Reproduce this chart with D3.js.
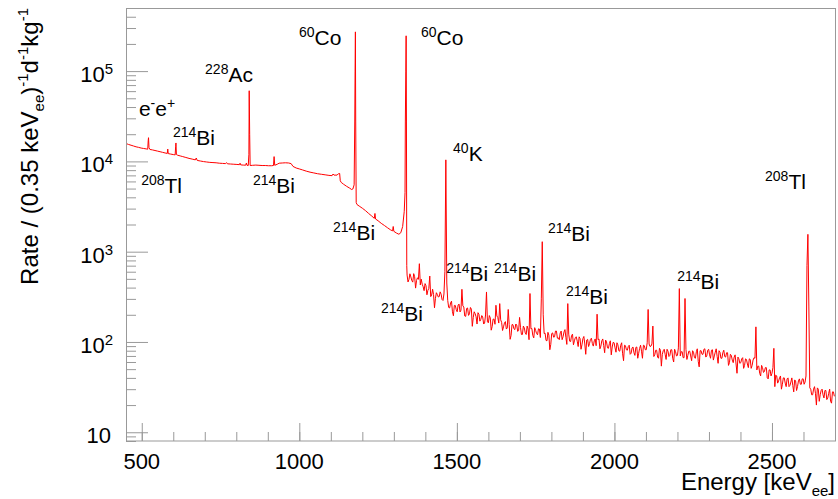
<!DOCTYPE html>
<html>
<head>
<meta charset="utf-8">
<script src="https://cdn.jsdelivr.net/npm/d3@7"></script>
<style>
  body { margin: 0; background: #fff; }
  text { font-family: "Liberation Sans", Arial, Helvetica, sans-serif; fill: #000; }
</style>
</head>
<body>
<div id="chart"></div>
<script>
// smooth part of the spectrum, below the second 60Co line [keV, rate]
const lowSpectrum = [
  [450, 15800], [458, 15400], [466, 15100], [474, 14800], [482, 14500], [490, 14300],
  [498, 14050], [506, 13900], [514, 13750], [519, 13650], [520.5, 17000], [521.5, 18300],
  [523, 14200], [526, 13550], [534, 13400], [542, 13200], [550, 13000], [558, 12800],
  [566, 12600], [574, 12400], [581, 12250], [582.5, 13700], [584, 12200], [592, 12050],
  [600, 11900], [606, 11800], [607.5, 14500], [608.5, 16000], [610, 11900], [614, 11700],
  [622, 11500], [630, 11300], [640, 11050], [650, 10800], [660, 10600], [670, 10400],
  [673, 10900], [676, 10250], [686, 10100], [696, 9950], [706, 9850], [716, 9750],
  [726, 9700], [736, 9650], [746, 9550], [756, 9500], [766, 9450], [769, 9700],
  [772, 9400], [782, 9350], [792, 9300], [802, 9250], [810, 9200], [812, 9550],
  [814, 9150], [822, 9100], [830, 9080], [832, 9600], [834, 9050], [838, 9000],
  [840, 12000], [841, 60600], [842.5, 20000], [844, 9000], [852, 9050], [862, 9100],
  [872, 9050], [882, 9000], [892, 9000], [902, 8950], [912, 8950], [918, 9000],
  [920, 11300], [922, 9050], [930, 9300], [936, 9550], [946, 9600], [956, 9650],
  [966, 9600], [974, 9450], [980, 8800], [990, 8450], [1000, 8250], [1010, 8050],
  [1022, 7800], [1034, 7600], [1046, 7450], [1058, 7300], [1070, 7200], [1082, 7100],
  [1094, 7000], [1104, 6950], [1107, 7250], [1110, 7050], [1120, 7050], [1124, 7300],
  [1128, 7350], [1130, 6100], [1133, 5850], [1140, 5600], [1150, 5300], [1160, 5050],
  [1166, 4880], [1170, 4950], [1174, 5500], [1176, 28000], [1177, 100000], [1178, 272000],
  [1179, 28000], [1180.5, 3500], [1183, 3330], [1190, 3200], [1200, 3030], [1210, 2850],
  [1220, 2650], [1230, 2480], [1238, 2340], [1240, 2650], [1242, 2300], [1250, 2200],
  [1260, 2060], [1270, 1950], [1280, 1840], [1290, 1740], [1296, 1700], [1298, 1900],
  [1300, 1680], [1308, 1610], [1316, 1560], [1322, 1620], [1328, 1900], [1333, 2800],
  [1335.5, 4500], [1336.5, 28000], [1338, 100000], [1339, 246000], [1340, 28000], [1341, 700]
];

// noisy part above 1340 keV, one bin every 3 keV (lines included)
const binStartKeV = 1342;
const binWidthKeV = 3;
const highRates = [
  551, 462, 494, 569, 525, 479, 460, 571, 528, 395, 480, 514, 494, 736, 428, 496, 436, 409, 370, 443,
  420, 333, 373, 392, 537, 318, 331, 384, 335, 239, 304, 351, 336, 315, 318, 359, 338, 295, 288, 340,
  600, 10400, 450, 288, 241, 238, 270, 283, 216, 195, 254, 254, 228, 216, 257, 263, 215, 225, 383, 251,
  244, 194, 192, 235, 238, 197, 205, 241, 231, 149, 187, 216, 206, 190, 158, 211, 203, 170, 178, 196,
  189, 158, 162, 199, 358, 167, 163, 196, 185, 135, 148, 179, 179, 157, 255, 194, 186, 162, 266, 176,
  165, 134, 147, 162, 168, 139, 143, 229, 156, 107, 118, 156, 155, 140, 137, 158, 154, 131, 134, 187,
  144, 121, 121, 150, 143, 126, 121, 150, 139, 106, 344, 140, 141, 118, 111, 144, 134, 124, 120, 140,
  139, 112, 300, 1290, 200, 124, 125, 104, 103, 128, 119, 82, 94, 124, 126, 113, 114, 132, 132, 110,
  111, 106, 126, 132, 106, 114, 129, 137, 112, 94, 266, 122, 102, 101, 118, 122, 93, 103, 112, 114,
  102, 89, 114, 109, 83, 93, 109, 115, 95, 73, 105, 107, 89, 96, 107, 110, 96, 90, 103, 108,
  91, 203, 106, 108, 84, 90, 103, 108, 91, 76, 105, 100, 86, 85, 96, 103, 72, 88, 99, 98,
  86, 77, 98, 93, 80, 79, 92, 98, 74, 62, 92, 91, 82, 81, 89, 92, 73, 75, 86, 88,
  76, 71, 87, 88, 66, 75, 85, 92, 79, 66, 92, 91, 82, 82, 98, 229, 95, 89, 90, 95,
  150, 69, 72, 81, 81, 68, 66, 85, 81, 54, 73, 80, 83, 73, 64, 83, 79, 69, 71, 82,
  82, 66, 60, 83, 78, 70, 71, 86, 390, 70, 78, 78, 67, 67, 303, 83, 64, 71, 79, 79,
  70, 62, 80, 77, 67, 66, 78, 84, 61, 53, 80, 80, 73, 73, 83, 84, 68, 70, 81, 83,
  72, 66, 81, 82, 63, 70, 77, 84, 69, 58, 80, 77, 66, 66, 76, 81, 69, 68, 76, 76,
  55, 59, 73, 71, 63, 59, 68, 72, 57, 45, 68, 65, 58, 59, 65, 67, 51, 55, 65, 64,
  57, 52, 65, 64, 51, 55, 63, 67, 66, 147, 49, 54, 54, 45, 42, 55, 52, 46, 47, 52,
  52, 40, 39, 49, 49, 42, 45, 52, 85, 32, 43, 42, 35, 37, 40, 42, 30, 34, 40, 40,
  35, 32, 39, 40, 32, 33, 36, 40, 33, 28, 38, 37, 29, 32, 37, 39, 34, 34, 39, 39,
  34, 36, 42, 700, 1556, 250, 31, 30, 26, 26, 30, 32, 27, 20, 31, 30, 22, 26, 29, 30,
  26, 24, 29, 29, 23, 24, 27, 30, 22, 21, 28, 28, 25
];

// annotations: isotope mass, element, anchor [keV, rate]
const labelMass = ["60", "60", "228", "", "214", "208", "214", "40", "214", "208", "214", "214", "214", "214", "214", "214"];
const labelName = ["Co", "Co", "Ac", "e-e+", "Bi", "Tl", "Bi", "K", "Bi", "Tl", "Bi", "Bi", "Bi", "Bi", "Bi", "Bi"];
const labelE = [999, 1386, 701, 491, 599, 498, 853, 1488, 1107, 2478, 1789, 1466, 1618, 1259, 1846, 2199];
const labelRate = [1.95e5, 1.95e5, 7.57e4, 3.18e4, 1.52e4, 4470, 4470, 1.01e4, 1346, 4950, 1313, 473, 473, 171, 263, 385];

const xMajor = [500, 1000, 1500, 2000, 2500];
const yMajor = [10, 100, 1000, 10000, 100000];

const width = 838, height = 499;
const svg = d3.select("#chart").append("svg")
    .attr("width", width)
    .attr("height", height);

const x = d3.scaleLinear().domain([450, 2700]).range([126, 835]);
const y = d3.scaleLog().domain([8, 5e5]).range([441, 8]);

// full spectrum = smooth part + binned part
let points = lowSpectrum.slice();
highRates.forEach(function (r, i) {
    points.push([binStartKeV + i * binWidthKeV, r]);
});

svg.append("defs").append("clipPath").attr("id", "clip")
    .append("rect").attr("x", 126).attr("y", 8).attr("width", 709).attr("height", 433);

svg.append("path")
    .datum(points)
    .attr("clip-path", "url(#clip)")
    .attr("fill", "none")
    .attr("stroke", "#f00")
    .attr("stroke-width", 1)
    .attr("d", d3.line().x(d => x(d[0])).y(d => y(d[1])));

// frame
svg.append("rect")
    .attr("x", 126.5).attr("y", 8.5)
    .attr("width", 709).attr("height", 432.5)
    .attr("fill", "none")
    .attr("stroke", "#999")
    .attr("stroke-width", 1);

// x axis, ticks pointing inwards like ROOT
let xMinor = d3.range(500, 2701, 100);
svg.append("g")
    .attr("transform", "translate(0,441)")
    .call(d3.axisBottom(x).tickValues(xMinor).tickSize(-9).tickFormat(""))
    .call(g => g.select(".domain").remove())
    .selectAll("line").attr("stroke", "#999");
svg.append("g")
    .attr("transform", "translate(0,441)")
    .call(d3.axisBottom(x).tickValues(xMajor).tickSize(-18).tickFormat(""))
    .call(g => g.select(".domain").remove())
    .selectAll("line").attr("stroke", "#999");

svg.append("g").selectAll("text")
    .data(xMajor)
    .join("text")
    .attr("x", d => x(d))
    .attr("y", 469)
    .attr("text-anchor", "middle")
    .attr("font-size", 22)
    .text(d => d);

// y axis
let yMinor = [];
[1, 10, 100, 1000, 10000, 100000].forEach(function (p) {
    for (let m = 2; m <= 9; m++) {
        if (m * p >= 8 && m * p <= 5e5) yMinor.push(m * p);
    }
});
svg.append("g")
    .attr("transform", "translate(126,0)")
    .call(d3.axisLeft(y).tickValues(yMinor).tickSize(-10).tickFormat(""))
    .call(g => g.select(".domain").remove())
    .selectAll("line").attr("stroke", "#999");
svg.append("g")
    .attr("transform", "translate(126,0)")
    .call(d3.axisLeft(y).tickValues(yMajor).tickSize(-22).tickFormat(""))
    .call(g => g.select(".domain").remove())
    .selectAll("line").attr("stroke", "#999");

const yLab = svg.append("g").selectAll("text")
    .data(yMajor)
    .join("text")
    .attr("x", 113)
    .attr("y", d => y(d) + 11)
    .attr("text-anchor", "end")
    .attr("font-size", 22);
yLab.each(function (d) {
    const t = d3.select(this);
    const p = Math.round(Math.log10(d));
    if (p === 1) {
        t.attr("x", 111).text("10");
    } else {
        t.append("tspan").text("10");
        t.append("tspan").attr("font-size", 15).attr("dy", -8).text(p);
    }
});

// axis titles
const xt = svg.append("text")
    .attr("x", 835).attr("y", 490)
    .attr("text-anchor", "end")
    .attr("font-size", 24);
xt.append("tspan").text("Energy [keV");
xt.append("tspan").attr("font-size", 15).attr("dy", 6).text("ee");
xt.append("tspan").attr("dy", -6).text("]");

const yt = svg.append("text")
    .attr("transform", "translate(38,8) rotate(-90)")
    .attr("text-anchor", "end")
    .attr("font-size", 24);
yt.append("tspan").text("Rate / (0.35 keV");
yt.append("tspan").attr("font-size", 15).attr("dy", 6).text("ee");
yt.append("tspan").attr("dy", -6).text(")");
yt.append("tspan").attr("font-size", 15).attr("dy", -10).text("-1");
yt.append("tspan").attr("dy", 10).text("d");
yt.append("tspan").attr("font-size", 15).attr("dy", -10).text("-1");
yt.append("tspan").attr("dy", 10).text("kg");
yt.append("tspan").attr("font-size", 15).attr("dy", -10).text("-1");

// isotope annotations
labelName.forEach(function (name, i) {
    const t = svg.append("text")
        .attr("x", x(labelE[i]))
        .attr("y", y(labelRate[i]))
        .attr("font-size", 21);
    if (name === "e-e+") {
        t.append("tspan").text("e");
        t.append("tspan").attr("font-size", 14).attr("dy", -8).text("-");
        t.append("tspan").attr("dy", 8).text("e");
        t.append("tspan").attr("font-size", 14).attr("dy", -8).text("+");
    } else {
        t.append("tspan").attr("font-size", 14).attr("dy", -8).text(labelMass[i]);
        t.append("tspan").attr("dy", 8).text(name);
    }
});
</script>
</body>
</html>
